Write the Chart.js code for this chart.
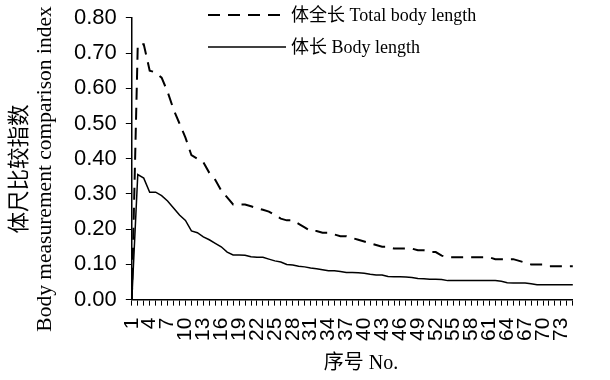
<!DOCTYPE html>
<html>
<head>
<meta charset="utf-8">
<script src="https://cdn.jsdelivr.net/npm/chart.js@4/dist/chart.umd.min.js"></script>
<style>
  body { margin: 0; background: #fff; }
  #wrap { width: 610px; height: 380px; }
</style>
</head>
<body>
<div id="wrap"><canvas id="chart" width="610" height="380"></canvas></div>
<script>
// sample numbers 1..75
let categories = Array.from({ length: 75 }, (_, i) => String(i + 1));
// only every third number is printed under the axis
let tickLabels = ['1','4','7','10','13','16','19','22','25','28','31','34','37','40','43','46','49','52','55','58','61','64','67','70','73'];
let yTicks = [0, 0.1, 0.2, 0.3, 0.4, 0.5, 0.6, 0.7, 0.8];

// 体全长 Total body length (dashed)
let totalBodyLength = [
    0, 0.725, 0.725, 0.65, 0.645, 0.63, 0.59, 0.54, 0.50, 0.46,
    0.41, 0.40, 0.39, 0.36, 0.34, 0.31, 0.29, 0.27, 0.27, 0.27,
    0.265, 0.26, 0.255, 0.25, 0.24, 0.23, 0.225, 0.225, 0.215, 0.205,
    0.195, 0.195, 0.19, 0.19, 0.185, 0.18, 0.18, 0.175, 0.17, 0.165,
    0.16, 0.155, 0.15, 0.15, 0.145, 0.145, 0.145, 0.145, 0.14, 0.14,
    0.135, 0.135, 0.125, 0.12, 0.12, 0.12, 0.12, 0.12, 0.12, 0.12,
    0.12, 0.115, 0.115, 0.115, 0.115, 0.11, 0.105, 0.10, 0.10, 0.10,
    0.095, 0.095, 0.095, 0.095, 0.095
];
// 体长 Body length (solid)
let bodyLength = [
    0, 0.355, 0.345, 0.305, 0.305, 0.295, 0.28, 0.26, 0.24, 0.225,
    0.195, 0.19, 0.178, 0.17, 0.16, 0.15, 0.135, 0.127, 0.127, 0.126,
    0.122, 0.12, 0.12, 0.115, 0.11, 0.107, 0.10, 0.098, 0.095, 0.093,
    0.09, 0.088, 0.085, 0.082, 0.082, 0.08, 0.077, 0.077, 0.076, 0.075,
    0.072, 0.07, 0.07, 0.066, 0.065, 0.065, 0.064, 0.063, 0.06, 0.059,
    0.058, 0.058, 0.057, 0.054, 0.054, 0.054, 0.054, 0.054, 0.054, 0.054,
    0.054, 0.054, 0.052, 0.048, 0.047, 0.047, 0.047, 0.045, 0.042, 0.042,
    0.042, 0.042, 0.042, 0.042, 0.042
];

let serifCJK = "'Liberation Serif', 'Times New Roman', 'Noto Sans CJK SC'";

// legend drawn inside the plot, two rows, from the datasets themselves
let insideLegend = {
    id: 'insideLegend',
    afterDraw(chart) {
        let ctx = chart.ctx;
        chart.data.datasets.forEach((ds, i) => {
            let y = 15 + i * 32;
            ctx.save();
            ctx.strokeStyle = ds.borderColor;
            ctx.lineWidth = ds.borderWidth;
            ctx.setLineDash(ds.borderDash || []);
            ctx.beginPath();
            ctx.moveTo(208, y);
            ctx.lineTo(286, y);
            ctx.stroke();
            ctx.setLineDash([]);
            ctx.fillStyle = '#000';
            ctx.font = '18px ' + serifCJK;
            ctx.textBaseline = 'middle';
            ctx.fillText(ds.label, 291, y + 1);
            ctx.restore();
        });
    }
};

// axis titles (mixed chinese / english lines)
let axisTitles = {
    id: 'axisTitles',
    afterDraw(chart) {
        let ctx = chart.ctx;
        ctx.save();
        ctx.fillStyle = '#000';
        ctx.textAlign = 'center';
        ctx.textBaseline = 'middle';
        ctx.font = '20px ' + serifCJK;
        ctx.fillText('序号 No.', 361, 364);
        ctx.translate(0, 169);
        ctx.rotate(-Math.PI / 2);
        ctx.font = "21.5px 'Noto Sans CJK SC'";
        ctx.fillText('体尺比较指数', 0, 18);
        ctx.font = '21.5px ' + serifCJK;
        ctx.fillText('Body measurement comparison index', 0, 45);
        ctx.restore();
    }
};

Chart.defaults.font.family = "'Liberation Sans', Arial, sans-serif";
Chart.defaults.color = '#000';

let ctx = document.getElementById('chart').getContext('2d');
let comparisonChart = new Chart(ctx, {
    type: 'line',
    data: {
        labels: categories,
        datasets: [{
            label: '体全长 Total body length',
            data: totalBodyLength,
            borderColor: '#000',
            borderWidth: 2,
            borderDash: [12, 8],
            pointRadius: 0,
            tension: 0,
            fill: false
        }, {
            label: '体长 Body length',
            data: bodyLength,
            borderColor: '#000',
            borderWidth: 1.5,
            pointRadius: 0,
            tension: 0,
            fill: false
        }]
    },
    options: {
        responsive: false,
        animation: false,
        layout: { padding: { left: 65, right: 3, top: 16, bottom: 27 } },
        plugins: {
            legend: { display: false },
            tooltip: { enabled: false }
        },
        scales: {
            x: {
                offset: false,
                grid: { drawOnChartArea: false, tickLength: 6, color: '#000', lineWidth: 1 },
                border: { color: '#000', width: 1.5 },
                ticks: {
                    autoSkip: false,
                    minRotation: 90,
                    maxRotation: 90,
                    padding: 12,
                    font: { size: 21 },
                    callback: function (value) {
                        let lab = this.getLabelForValue(value);
                        return tickLabels.includes(lab) ? lab : '';
                    }
                }
            },
            y: {
                min: yTicks[0],
                max: yTicks[yTicks.length - 1],
                grid: { drawOnChartArea: false, tickLength: 6, color: '#000', lineWidth: 1 },
                border: { color: '#000', width: 1.5 },
                ticks: {
                    stepSize: 0.1,
                    padding: 9,
                    font: { size: 22, lineHeight: 0.8 },
                    callback: v => v.toFixed(2)
                }
            }
        }
    },
    plugins: [insideLegend, axisTitles]
});
</script>
</body>
</html>
